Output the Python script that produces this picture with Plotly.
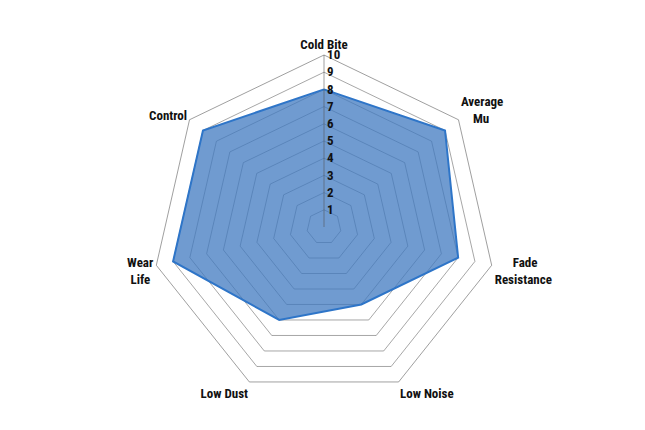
import plotly.graph_objects as go

NB = "\u00a0"
categories = ["Cold Bite", "Average<br>" + NB * 4 + "Mu", NB * 6 + "Fade<br>Resistance",
              "Low Noise", "Low Dust", "Wear<br>Life" + NB, "Control"]
values = [8, 9, 8, 5, 6, 9, 9]
tick_vals = [1, 2, 3, 4, 5, 6, 7, 8, 9, 10]
tick_text = ["1", "2", "3", "4", "5", "6", "7", "8", "9", "10"]

FONT = "Liberation Sans Narrow, Arial Narrow, Roboto Condensed, Roboto, Liberation Sans, Arial, sans-serif"

fig = go.Figure()
fig.add_trace(go.Scatterpolar(
    r=values + [values[0]],
    theta=categories + [categories[0]],
    mode="lines",
    fill="toself",
    fillcolor="rgba(64,122,192,0.75)",
    line=dict(color="rgb(46,117,200)", width=2),
    showlegend=False,
    hoverinfo="skip",
))

fig.update_layout(
    width=645, height=430,
    margin=dict(l=0, r=0, t=0, b=0),
    paper_bgcolor="white",
    font=dict(family=FONT, size=13, color="#111111"),
    polar=dict(
        domain=dict(x=[144/645, 488/645], y=[39/430, 383/430]),
        bgcolor="white",
        gridshape="linear",
        radialaxis=dict(
            range=[0, 10],
            tickvals=tick_vals,
            ticktext=tick_text,
            angle=90,
            tickangle=90,
            showline=True,
            linecolor="rgba(80,80,80,0.55)",
            linewidth=1,
            gridcolor="rgba(80,80,80,0.5)",
            gridwidth=1,
            ticks="",
            tickfont=dict(family=FONT, size=13, color="#111111", weight="bold"),
        ),
        angularaxis=dict(
            direction="clockwise",
            rotation=90,
            showgrid=False,
            showline=True,
            linecolor="rgba(80,80,80,0.55)",
            linewidth=1,
            ticks="",
            tickfont=dict(family=FONT, size=13, color="#111111", weight="bold"),
        ),
    ),
)

fig.write_html("out.html")
